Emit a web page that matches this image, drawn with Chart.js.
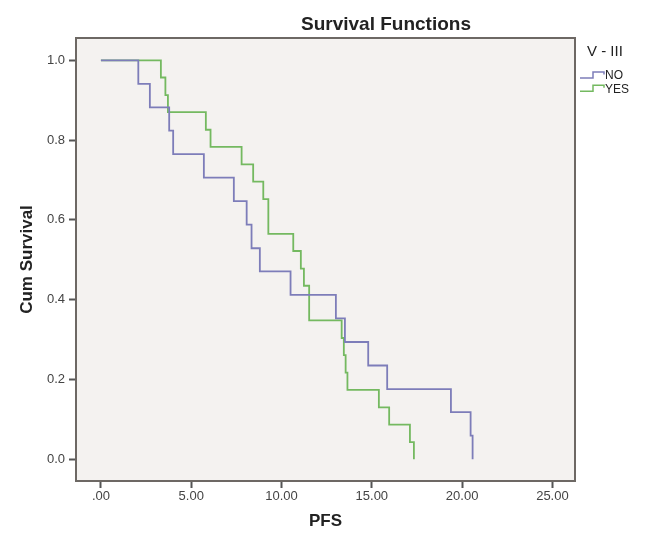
<!DOCTYPE html>
<html>
<head>
<meta charset="utf-8">
<script src="https://cdn.jsdelivr.net/npm/chart.js@4.4.1/dist/chart.umd.min.js"></script>
<style>
  html, body { margin: 0; padding: 0; background: #fff; }
</style>
</head>
<body>
<canvas id="km" width="653" height="545"></canvas>
<script>
  // Kaplan-Meier steps (time, cumulative survival)
  const noTimes = [0, 2.07, 2.71, 3.78, 4.00, 5.70, 7.36, 8.07, 8.34, 8.80, 10.50, 13.01, 13.51, 14.80, 15.85, 19.38, 20.47, 20.58];
  const noSurv = [1, .941, .882, .824, .765, .706, .647, .588, .529, .471, .412, .353, .294, .235, .176, .118, .059, 0];
  const yesTimes = [0, 3.32, 3.57, 3.71, 5.81, 6.07, 7.79, 8.43, 8.99, 9.27, 10.65, 11.07, 11.24, 11.53, 13.33, 13.45, 13.55, 13.65, 15.39, 15.96, 17.11, 17.33];
  const yesSurv = [1, .957, .913, .870, .826, .783, .739, .696, .652, .565, .522, .478, .435, .348, .304, .261, .217, .174, .130, .087, .043, 0];

  const groups = ['NO', 'YES'];
  const xTicks = [0, 5, 10, 15, 20, 25];
  const xTickLabels = ['.00', '5.00', '10.00', '15.00', '20.00', '25.00'];
  const yTicks = [0, 0.2, 0.4, 0.6, 0.8, 1.0];
  const yTickLabels = ['0.0', '0.2', '0.4', '0.6', '0.8', '1.0'];

  const blue = '#7d7db9';
  const green = '#74b960';
  const frameColor = '#6d6864';
  const FONT = '"Liberation Sans", Arial, sans-serif';

  function toPoints(times, surv) {
    return times.map(function(t, i) { return {x: t, y: surv[i]}; });
  }

  // plot background, frame, title and the step legend
  const spssFrame = {
    id: 'spssFrame',
    beforeDraw: function(chart) {
      const a = chart.chartArea;
      const ctx = chart.ctx;
      ctx.save();
      ctx.fillStyle = '#f4f2f0';
      ctx.fillRect(a.left, a.top, a.right - a.left, a.bottom - a.top);
      ctx.restore();
    },
    afterDraw: function(chart) {
      const a = chart.chartArea;
      const ctx = chart.ctx;
      ctx.save();
      ctx.strokeStyle = frameColor;
      ctx.lineWidth = 2;
      ctx.strokeRect(a.left, a.top, a.right - a.left, a.bottom - a.top);

      ctx.fillStyle = '#222';
      ctx.textBaseline = 'middle';
      ctx.textAlign = 'center';
      ctx.font = 'bold 19px ' + FONT;
      ctx.fillText('Survival Functions', 386, 25);

      ctx.textAlign = 'left';
      ctx.font = '15px ' + FONT;
      ctx.fillText('V - III', 587, 52);

      ctx.font = '12px ' + FONT;
      const cols = [blue, green];
      groups.forEach(function(g, i) {
        const y = 76 + i * 13.3;
        ctx.strokeStyle = cols[i];
        ctx.lineWidth = 1.5;
        ctx.beginPath();
        ctx.moveTo(580, y + 2);
        ctx.lineTo(593, y + 2);
        ctx.lineTo(593, y - 4);
        ctx.lineTo(604, y - 4);
        ctx.lineTo(604, y - 1.5);
        ctx.stroke();
        ctx.fillStyle = '#222';
        ctx.fillText(g, 605, y);
      });
      ctx.restore();
    }
  };

  new Chart(document.getElementById('km'), {
    type: 'line',
    data: {
      datasets: [
        {
          label: groups[0],
          data: toPoints(noTimes, noSurv),
          borderColor: blue,
          borderWidth: 1.8,
          pointRadius: 0,
          stepped: true,
          fill: false
        },
        {
          label: groups[1],
          data: toPoints(yesTimes, yesSurv),
          borderColor: green,
          borderWidth: 1.8,
          pointRadius: 0,
          stepped: true,
          fill: false
        }
      ]
    },
    options: {
      responsive: false,
      animation: false,
      devicePixelRatio: 1,
      layout: { padding: { top: 38, right: 78, left: 0, bottom: 0 } },
      plugins: {
        legend: { display: false },
        title: { display: false },
        tooltip: { enabled: false }
      },
      scales: {
        x: {
          type: 'linear',
          min: -1.38,
          max: 26.25,
          afterBuildTicks: function(s) { s.ticks = xTicks.map(function(v) { return {value: v}; }); },
          afterFit: function(s) { s.height = 64; },
          ticks: {
            font: { size: 13, family: FONT },
            color: '#444',
            padding: 1,
            maxRotation: 0,
            callback: function(v) { return xTickLabels[xTicks.indexOf(v)]; }
          },
          grid: { drawOnChartArea: false, drawTicks: true, tickLength: 7, tickColor: '#555', tickWidth: 2 },
          border: { display: true, color: frameColor, width: 2 },
          title: {
            display: true,
            text: 'PFS',
            font: { size: 17, weight: 'bold', family: FONT },
            color: '#222',
            padding: { top: 0, bottom: 13 }
          }
        },
        y: {
          type: 'linear',
          min: -0.0545,
          max: 1.056,
          afterBuildTicks: function(s) { s.ticks = yTicks.map(function(v) { return {value: v}; }); },
          afterFit: function(s) { s.width = 76; },
          ticks: {
            font: { size: 13, family: FONT },
            color: '#444',
            padding: 4,
            callback: function(v) { return yTickLabels[yTicks.indexOf(v)]; }
          },
          grid: { drawOnChartArea: false, drawTicks: true, tickLength: 7, tickColor: '#555', tickWidth: 2 },
          border: { display: true, color: frameColor, width: 2 },
          title: {
            display: true,
            text: 'Cum Survival',
            font: { size: 17, weight: 'bold', family: FONT },
            color: '#222',
            padding: { top: 17, bottom: 0 }
          }
        }
      }
    },
    plugins: [spssFrame]
  });
</script>
</body>
</html>
